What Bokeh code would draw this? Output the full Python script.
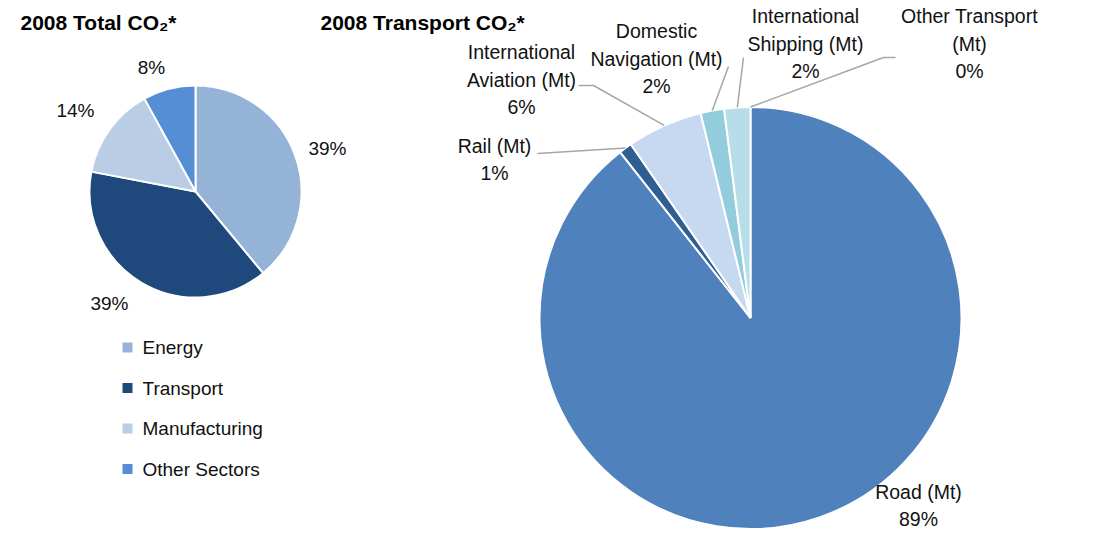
import numpy as np
from bokeh.plotting import figure
from bokeh.models import Range1d
from bokeh.core.properties import value
from bokeh.embed import file_html
from bokeh.resources import INLINE

# ---------------- data ----------------
total_categories = ["Energy", "Transport", "Manufacturing", "Other Sectors"]
total_share = [39.0, 39.0, 14.0, 8.0]
total_labels = ["39%", "39%", "14%", "8%"]
total_colors = ["#95B3D7", "#1F497D", "#B9CDE5", "#558ED5"]

transport_categories = ["Road (Mt)", "Rail (Mt)", "International\nAviation (Mt)",
                        "Domestic\nNavigation (Mt)", "International\nShipping (Mt)",
                        "Other Transport\n(Mt)"]
transport_share = [89.4, 1.0, 5.8, 1.8, 2.0, 0.0]
transport_labels = ["89%", "1%", "6%", "2%", "2%", "0%"]
transport_colors = ["#4F81BD", "#2F5E93", "#C6D9F1", "#93CDDD", "#B7DEE8", "#DCE6F2"]

# ---------------- layout (page pixel coords) ----------------
PAGE_H = 548
def Y(v):
    return PAGE_H - v

FONT = "Liberation Sans"
TXT = "#111111"

p = figure(width=1079, height=532, output_backend="svg", toolbar_location=None,
           x_range=Range1d(0, 1079), y_range=Range1d(16, 548), min_border=0)
p.axis.visible = False
p.grid.visible = False
p.outline_line_color = None
p.background_fill_color = "white"

def pie(cx, cy, r, shares, colors):
    shares = np.array(shares, dtype=float)
    frac = shares / shares.sum()
    cum = np.concatenate([[0.0], np.cumsum(frac)])
    start = np.pi / 2 - 2 * np.pi * cum[:-1]
    end = np.pi / 2 - 2 * np.pi * cum[1:]
    keep = frac > 0
    p.wedge(x=cx, y=Y(cy), radius=r, start_angle=start[keep], end_angle=end[keep],
            direction="clock", fill_color=[c for c, k in zip(colors, keep) if k],
            line_color="white", line_width=2)
    mid = 2 * np.pi * (cum[:-1] + cum[1:]) / 2
    ax = cx + r * np.sin(mid)
    ay = cy - r * np.cos(mid)
    return ax, ay

# left pie
pie(195, 191, 106, total_share, total_colors)
left_label_pos = [(327, 148), (109, 303), (75, 110), (151, 67)]
p.text(x=[q[0] for q in left_label_pos], y=[Y(q[1]) for q in left_label_pos],
       text=total_labels, text_align="center", text_baseline="middle",
       text_font=value(FONT), text_font_size="19px", text_color=TXT)

# legend
leg_x, leg_y0, leg_dy = 127, 347, 40.5
ly = [Y(leg_y0 + i * leg_dy) for i in range(len(total_categories))]
p.scatter(x=[leg_x] * len(ly), y=ly, marker="square", size=10,
          fill_color=total_colors, line_color=None)
p.text(x=[142] * len(ly), y=ly, text=total_categories, text_align="left",
       text_baseline="middle", text_font=value(FONT), text_font_size="19px",
       text_color=TXT)

# right pie
ax, ay = pie(750, 317.5, 211, transport_share, transport_colors)

right_label_pos = [(918, 505), (494, 159), (521, 79), (656, 58), (805, 43), (969, 43)]
p.text(x=[q[0] for q in right_label_pos], y=[Y(q[1]) for q in right_label_pos],
       text=[c + "\n" + l for c, l in zip(transport_categories, transport_labels)],
       text_align="center", text_baseline="middle", text_line_height=1.25,
       text_font=value(FONT), text_font_size="19.5px", text_color=TXT)

# leader lines (label end -> slice anchor)
leader_start = {1: [(537, 153)], 2: [(578, 85), (593, 85)], 3: [(728, 66)],
                4: [(743, 57)], 5: [(895, 57), (883, 57)]}
xs, ys = [], []
for i, pts in leader_start.items():
    xs.append([q[0] for q in pts] + [ax[i]])
    ys.append([Y(q[1]) for q in pts] + [Y(ay[i])])
p.multi_line(xs=xs, ys=ys, line_color="#A6A6A6", line_width=1.5)

# titles
p.text(x=[20, 320], y=[Y(22), Y(22)], text=["2008 Total CO\u2082*", "2008 Transport CO\u2082*"],
       text_align="left", text_baseline="middle", text_font=value(FONT),
       text_font_size="21px", text_font_style="bold", text_color="#000000")

open("out.html", "w").write(file_html(p, INLINE))
